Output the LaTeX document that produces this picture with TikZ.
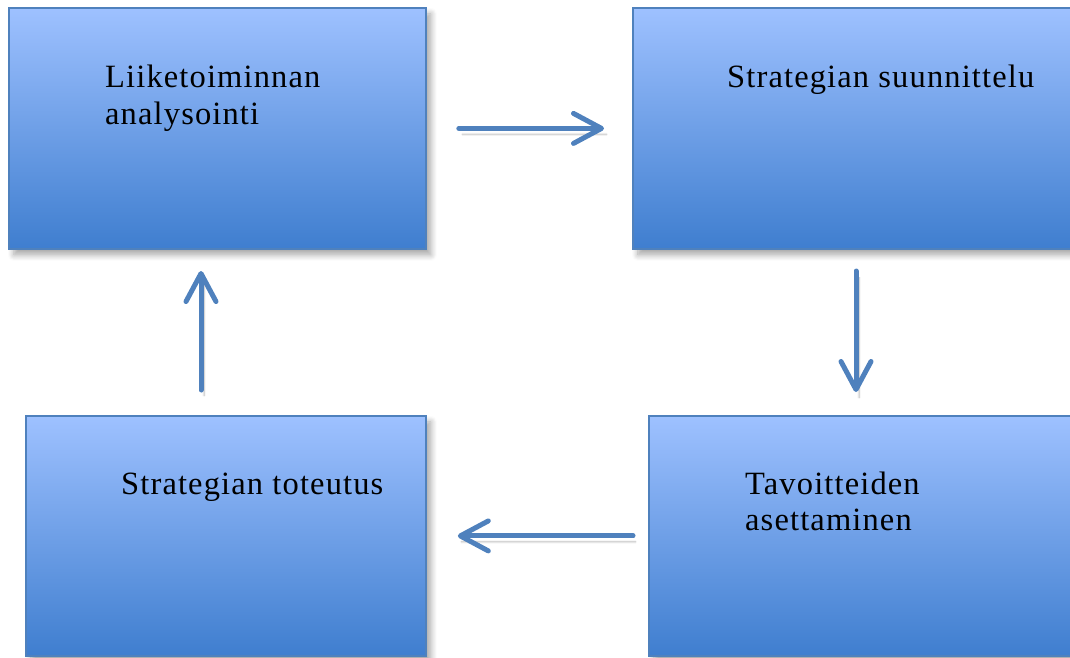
\documentclass[tikz,border=0pt]{standalone}
\usepackage{fontspec}
\setmainfont[LetterSpace=3.5]{Liberation Serif}
\usetikzlibrary{arrows.meta,shadows.blur,calc}
\definecolor{boxtop}{HTML}{9EC1FF}
\definecolor{boxbot}{HTML}{3F7ECF}
\definecolor{boxline}{HTML}{4F81BD}
\definecolor{arrcol}{HTML}{4F81BD}
\tikzset{
  box/.style={draw=boxline, line width=1.8pt, top color=boxtop, bottom color=boxbot,
    anchor=north west, inner sep=0pt,
    blur shadow={shadow xshift=5pt, shadow yshift=-6pt, shadow blur steps=8, shadow blur radius=6pt, shadow opacity=35}},
  lbl/.style={anchor=base west, inner sep=0pt, font=\fontsize{32.5}{37}\selectfont, align=left},
  arr/.style={draw=arrcol, line width=5pt, line cap=round,
    -{Straight Barb[length=28pt, width=30pt, line cap=round, line join=round]},
    blur shadow={shadow xshift=3pt, shadow yshift=-6pt, shadow blur steps=6, shadow opacity=30}}
}
\begin{document}
\begin{tikzpicture}[x=1pt,y=-1pt]
\useasboundingbox (0,0) rectangle (1070,657);
\begin{scope}
\clip (0,0) rectangle (1070,657);
\node[box, minimum width=417pt, minimum height=241pt] (b1) at (8,7) {};
\node[box, minimum width=450pt, minimum height=241pt] (b2) at (632,7) {};
\node[box, minimum width=400pt, minimum height=240pt] (b3) at (25,415) {};
\node[box, minimum width=430pt, minimum height=240pt] (b4) at (648,415) {};
\end{scope}
\node[lbl] (t1) at (105,87) {Liiketoiminnan};
\node[lbl] (t1b) at (105,124) {analysointi};
\node[lbl] (t2) at (727,87) {Strategian suunnittelu};
\node[lbl] (t3) at (121,494) {Strategian toteutus};
\node[lbl] (t4) at (745,494) {Tavoitteiden};
\node[lbl] (t4b) at (745,530) {asettaminen};
% arrow anchor points
\coordinate (a1s) at ($(b1.east)+(32,0)$);
\coordinate (a1e) at ($(b2.west)+(-28,0)$);
\coordinate (a2s) at (856,271);
\coordinate (a2e) at (856,392);
\coordinate (a3s) at ($(b4.west)+(-15,0)$);
\coordinate (a3e) at ($(b3.east)+(31,0)$);
\coordinate (a4s) at (201,390);
\coordinate (a4e) at (201,271);
\draw[arr] (a1s) -- (a1e);
\draw[arr] (a2s) -- (a2e);
\draw[arr] (a3s) -- (a3e);
\draw[arr] (a4s) -- (a4e);
\end{tikzpicture}
\end{document}
